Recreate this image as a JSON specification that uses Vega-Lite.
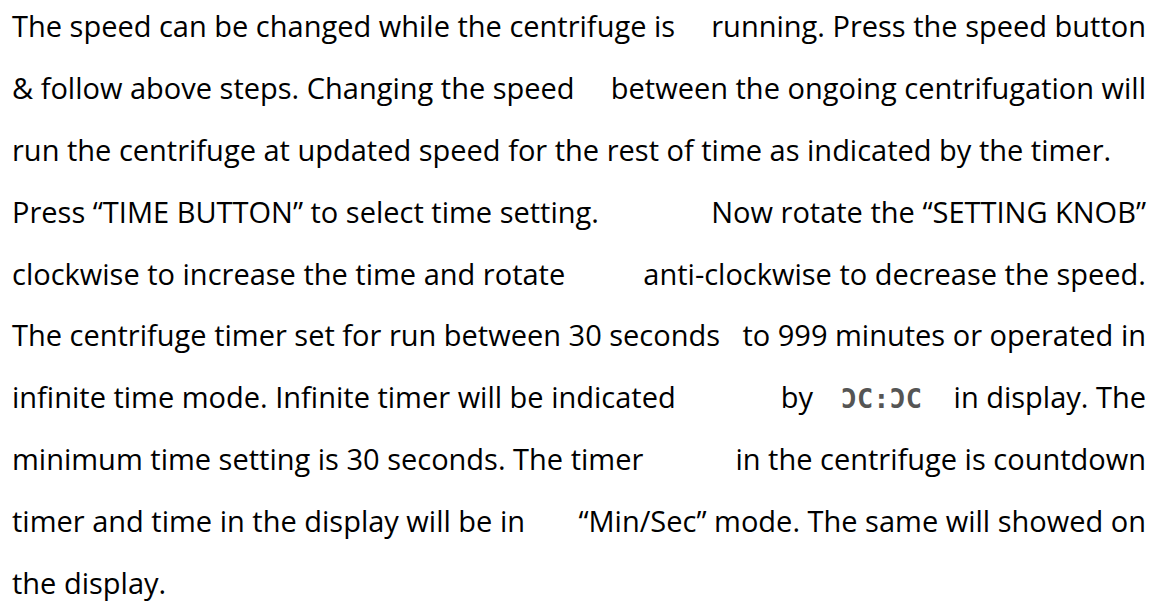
{
  "$schema": "https://vega.github.io/schema/vega-lite/v6.json",
  "width": 1159,
  "height": 602,
  "autosize": {"type": "fit", "contains": "padding"},
  "padding": 0,
  "background": "white",
  "config": {"view": {"stroke": null}},
  "data": {
    "values": [
      {"line": 1, "part": "start", "role": "text", "text": "The speed can be changed while the centrifuge is"},
      {"line": 1, "part": "end", "role": "text", "text": "running. Press the speed button"},
      {"line": 2, "part": "start", "role": "text", "text": "& follow above steps. Changing the speed"},
      {"line": 2, "part": "end", "role": "text", "text": "between the ongoing centrifugation will"},
      {"line": 3, "part": "start", "role": "text", "text": "run the centrifuge at updated speed for the rest of time as indicated by the timer."},
      {"line": 4, "part": "start", "role": "text", "text": "Press “TIME BUTTON” to select time setting."},
      {"line": 4, "part": "end", "role": "text", "text": "Now rotate the “SETTING KNOB”"},
      {"line": 5, "part": "start", "role": "text", "text": "clockwise to increase the time and rotate"},
      {"line": 5, "part": "end", "role": "text", "text": "anti-clockwise to decrease the speed."},
      {"line": 6, "part": "start", "role": "text", "text": "The centrifuge timer set for run between 30 seconds"},
      {"line": 6, "part": "end", "role": "text", "text": "to 999 minutes or operated in"},
      {"line": 7, "part": "start", "role": "text", "text": "infinite time mode. Infinite timer will be indicated"},
      {"line": 7, "part": "end", "role": "lead", "text": "by"},
      {"line": 7, "part": "end", "role": "symbol", "text": "ƆC:ƆC"},
      {"line": 7, "part": "end", "role": "text", "text": "in display. The"},
      {"line": 8, "part": "start", "role": "text", "text": "minimum time setting is 30 seconds. The timer"},
      {"line": 8, "part": "end", "role": "text", "text": "in the centrifuge is countdown"},
      {"line": 9, "part": "start", "role": "text", "text": "timer and time in the display will be in"},
      {"line": 9, "part": "end", "role": "text", "text": "“Min/Sec” mode. The same will showed on"},
      {"line": 10, "part": "start", "role": "text", "text": "the display."}
    ]
  },
  "encoding": {
    "y": {"field": "line", "type": "ordinal", "scale": {"type": "point", "padding": 0, "range": [37, 594]}, "axis": null},
    "x": {"field": "part", "type": "nominal", "scale": {"type": "point", "padding": 0, "domain": ["start", "end"], "range": [12, 1146]}, "axis": null},
    "text": {"field": "text"}
  },
  "layer": [
    {
      "transform": [{"filter": "datum.part === 'start' && datum.role === 'text'"}],
      "mark": {"type": "text", "align": "left", "baseline": "alphabetic", "font": "Open Sans", "fontSize": 29, "color": "#000000"}
    },
    {
      "transform": [{"filter": "datum.part === 'end' && datum.role === 'text'"}],
      "mark": {"type": "text", "align": "right", "baseline": "alphabetic", "font": "Open Sans", "fontSize": 29, "color": "#000000"}
    },
    {
      "transform": [{"filter": "datum.role === 'lead'"}],
      "mark": {"type": "text", "align": "right", "baseline": "alphabetic", "dx": -333, "font": "Open Sans", "fontSize": 29, "color": "#000000"}
    },
    {
      "transform": [{"filter": "datum.role === 'symbol'"}],
      "mark": {"type": "text", "align": "right", "baseline": "alphabetic", "dx": -224, "font": "DejaVu Sans Mono", "fontWeight": "bold", "fontSize": 27, "color": "#555555"}
    }
  ]
}
